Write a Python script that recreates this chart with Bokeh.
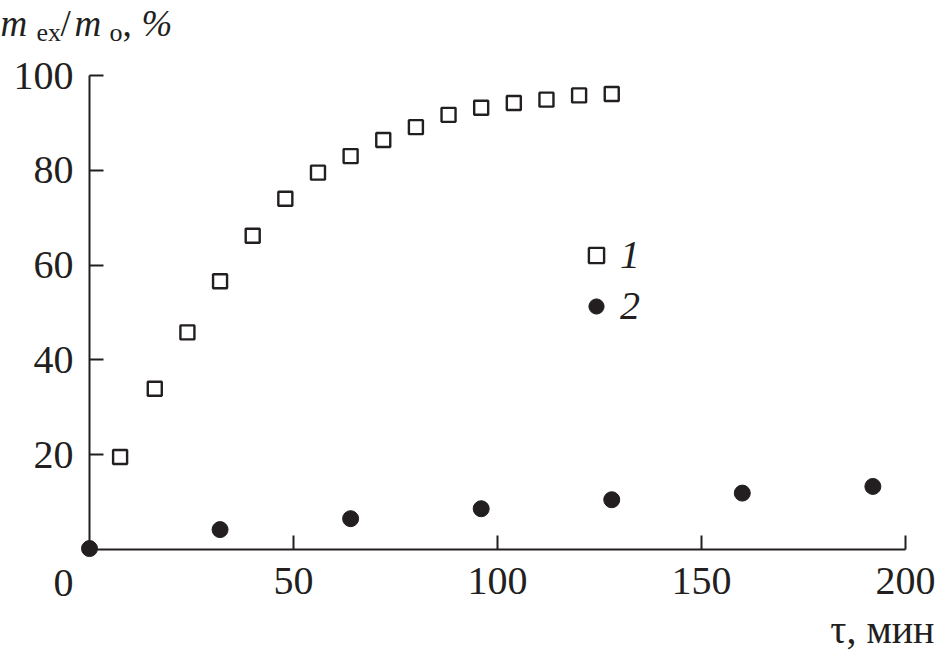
from bokeh.plotting import figure
from bokeh.models import Range1d, FixedTicker, Legend, LegendItem
from bokeh.core.properties import value
from bokeh.embed import file_html
from bokeh.resources import INLINE

# ---- data ----
tau_1 = [7.5, 16, 24, 32, 40, 48, 56, 64, 72, 80, 88, 96, 104, 112, 120, 128]
m_1 = [19.5, 33.9, 45.8, 56.6, 66.2, 74.0, 79.5, 83.0, 86.4, 89.1, 91.7, 93.2, 94.2, 94.9, 95.8, 96.1]
tau_2 = [0, 32, 64, 96, 128, 160, 192]
m_2 = [0.2, 4.2, 6.5, 8.6, 10.5, 11.9, 13.3]
x_ticks = [50, 100, 150, 200]
y_ticks = [20, 40, 60, 80, 100]
series_labels = ["1", "2"]

INK = "#231f20"
SERIF = "Liberation Serif"

W, H = 936, 656
BL, BR, BT, BB = 89, 31, 75, 107
p = figure(width=W, height=H, x_range=Range1d(0, 200), y_range=Range1d(0, 100),
           output_backend="svg", toolbar_location=None,
           min_border_left=BL, min_border_right=BR, min_border_top=BT, min_border_bottom=BB)
p.grid.visible = False
p.outline_line_color = None
p.background_fill_color = "white"
p.border_fill_color = "white"

fw = W - BL - BR
fh = H - BT - BB
sx = fw / 200.0
sy = fh / 100.0

def data_x(canvas_x):
    return (canvas_x - BL) / sx

def data_y(canvas_y):
    return 100 - (canvas_y - BT) / sy

for ax in (p.xaxis[0], p.yaxis[0]):
    ax.axis_line_color = INK
    ax.axis_line_width = 2
    ax.major_tick_line_color = INK
    ax.major_tick_line_width = 2
    ax.major_tick_in = 14
    ax.major_tick_out = 0
    ax.minor_tick_line_color = None
    ax.major_label_text_font = SERIF
    ax.major_label_text_font_size = "40px"
    ax.major_label_text_color = INK

p.xaxis.ticker = FixedTicker(ticks=x_ticks)
p.yaxis.ticker = FixedTicker(ticks=y_ticks)
p.xaxis.major_label_standoff = 18
p.yaxis.major_label_standoff = 16

r1 = p.scatter(tau_1, m_1, marker="square", size=14, fill_color=None,
               line_color=INK, line_width=2.4, level="overlay")
r2 = p.scatter(tau_2, m_2, marker="circle", size=16, fill_color=INK,
               line_color=INK, line_width=1, level="overlay")

legend = Legend(items=[LegendItem(label=series_labels[0], renderers=[r1]),
                       LegendItem(label=series_labels[1], renderers=[r2])],
                location=(488, 220), orientation="vertical",
                padding=0, margin=0, spacing=4,
                glyph_width=38, glyph_height=44, label_height=44,
                label_standoff=5,
                border_line_color=None, background_fill_alpha=0)
legend.label_text_font = SERIF
legend.label_text_font_style = "italic"
legend.label_text_font_size = "40px"
legend.label_text_color = INK
p.add_layout(legend)

def add_text(cx, cy, txt, size="40px", style="normal", align="left",
             baseline="alphabetic", x_offset=0):
    # text glyph at overlay level so that it is not clipped to the plot frame
    p.text(x=[data_x(cx)], y=[data_y(cy)], text=[txt], x_offset=x_offset,
           text_font=value(SERIF), text_font_style=style, text_font_size=size,
           text_color=INK, text_align=align, text_baseline=baseline,
           level="overlay")

# "0" origin label on the x axis (shifted left of the y axis as in the original)
add_text(63, 582, "0", align="center", baseline="middle")

# x-axis title
add_text(934, 629, "τ, мин", align="right")

# y-axis title: m_ex/m_o, %
pieces = [
    ("m", 0, 23, "italic", "37px"),
    ("ex", 36, 32, "normal", "26px"),
    ("/", 60, 23, "normal", "37px"),
    ("m", 74, 23, "italic", "37px"),
    ("o", 109, 32, "normal", "26px"),
    (",", 122, 23, "normal", "37px"),
    ("%", 141, 23, "italic", "37px"),
]
for txt, off, yy, style, size in pieces:
    add_text(0, yy, txt, size=size, style=style, x_offset=off)

open("out.html", "w").write(file_html(p, INLINE))
